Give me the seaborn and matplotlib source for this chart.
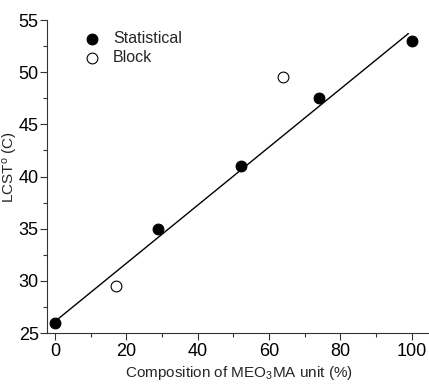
import matplotlib
matplotlib.use("Agg")
import matplotlib.pyplot as plt
import seaborn as sns
from matplotlib.ticker import MultipleLocator

# data
stat_x = [0, 29, 52, 74, 100]
stat_y = [26.0, 35.0, 41.0, 47.5, 53.0]
block_x = [17, 64]
block_y = [29.5, 49.5]
# linear fit line end points
fit_x = [0, 99]
fit_y = [26.1, 53.7]

sns.set_style("ticks")
plt.rcParams['font.family'] = ['Liberation Sans', 'DejaVu Sans']
plt.rcParams['mathtext.fontset'] = 'custom'
plt.rcParams['mathtext.rm'] = 'Liberation Sans'
plt.rcParams['mathtext.it'] = 'Liberation Sans'

fig = plt.figure(figsize=(4.29, 3.85), dpi=100)
ax = fig.add_axes([0.1096, 0.135, 0.888, 0.813])

sns.lineplot(x=fit_x, y=fit_y, color='black', linewidth=1.0, ax=ax)
sns.scatterplot(x=stat_x, y=stat_y, color='black', edgecolor='black', s=60,
                linewidth=0.8, label='Statistical', ax=ax, zorder=3)
sns.scatterplot(x=block_x, y=block_y, color='white', edgecolor='black', s=60,
                linewidth=0.8, label='Block', ax=ax, zorder=3)

ax.set_xlim(-2.2, 104.5)
ax.set_ylim(25, 55)
ax.xaxis.set_major_locator(MultipleLocator(20))
ax.xaxis.set_minor_locator(MultipleLocator(10))
ax.yaxis.set_major_locator(MultipleLocator(5))
ax.yaxis.set_minor_locator(MultipleLocator(2.5))
ax.tick_params(which='major', direction='out', length=5, width=0.8, labelsize=13, colors='#333333', labelcolor='black')
ax.tick_params(which='minor', direction='out', length=3, width=0.8, colors='#333333')
ax.tick_params(axis='y', pad=1)
ax.tick_params(axis='x', pad=2)
for s in ['top', 'right']:
    ax.spines[s].set_visible(False)
for s in ['left', 'bottom']:
    ax.spines[s].set_color('#333333')
    ax.spines[s].set_linewidth(0.8)

ax.set_xlabel('Composition of MEO$_3$MA unit (%)', fontsize=11)
ax.xaxis.set_label_coords(0.504, -0.1)
ax.set_ylabel('LCST$^{\\mathrm{o}}$ (C)', fontsize=11)
ax.yaxis.set_label_coords(-0.07, 0.53)

leg = ax.legend(loc='upper left', bbox_to_anchor=(0.06, 0.985), frameon=False,
                fontsize=11.5, handletextpad=0.3, labelspacing=0.25, borderaxespad=0)

fig.savefig('out.png', dpi=100)
